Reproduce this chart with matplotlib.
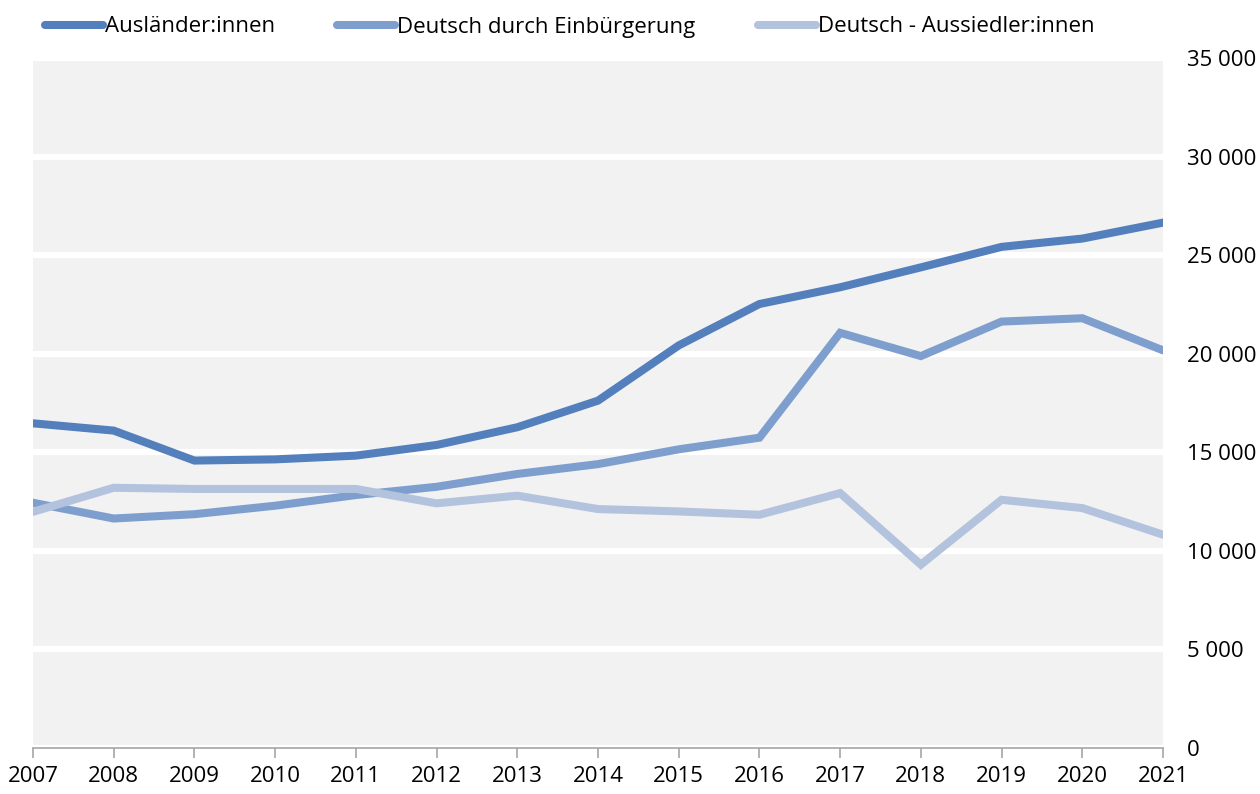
import matplotlib
matplotlib.use("Agg")
import matplotlib.pyplot as plt
from matplotlib.ticker import FuncFormatter

plt.rcParams['font.family'] = ['Open Sans', 'DejaVu Sans']

jahre = list(range(2007, 2022))

auslaender = [16470, 16100, 14580, 14640, 14830, 15370, 16270, 17620,
              20420, 22520, 23370, 24380, 25420, 25840, 26650]
einbuergerung = [12440, 11640, 11860, 12290, 12830, 13250, 13900, 14400,
                 15150, 15740, 21060, 19880, 21630, 21800, 20170]
aussiedler = [11980, 13200, 13140, 13140, 13140, 12410, 12800, 12120,
              12000, 11830, 12930, 9300, 12590, 12170, 10820]

namen = ["Ausländer:innen", "Deutsch durch Einbürgerung", "Deutsch - Aussiedler:innen"]
farben = ["#537fbc", "#7e9fce", "#b3c3de"]

y_ticks = [0, 5000, 10000, 15000, 20000, 25000, 30000, 35000]


def tausender(v, pos):
    return f"{int(v):,}".replace(",", " ")


def main():
    fig = plt.figure(figsize=(12.6, 7.94), dpi=100)
    ax = fig.add_axes([33 / 1260, 1 - 748 / 794, 1130 / 1260, 690 / 794])
    ax.set_facecolor("#f2f2f2")

    for werte, name, farbe in zip([auslaender, einbuergerung, aussiedler], namen, farben):
        ax.plot(jahre, werte, color=farbe, linewidth=5.8, label=name,
                solid_capstyle="round", solid_joinstyle="miter")

    ax.set_xlim(2007, 2021)
    ax.set_ylim(0, 35000)
    ax.set_xticks(jahre)
    ax.set_yticks(y_ticks)
    ax.yaxis.set_major_formatter(FuncFormatter(tausender))
    ax.yaxis.tick_right()
    ax.tick_params(axis="y", length=0, pad=17, labelsize=16, colors="#000000")
    ax.tick_params(axis="x", length=7, width=1.2, color="#a6a6a6", pad=6, labelsize=16)

    ax.grid(axis="y", color="white", linewidth=4.5)
    ax.set_axisbelow(True)
    for s in ["top", "left", "right"]:
        ax.spines[s].set_visible(False)
    ax.spines["bottom"].set_color("#a6a6a6")
    ax.spines["bottom"].set_linewidth(1.2)

    leg = fig.legend(loc="center left", bbox_to_anchor=(45 / 1260, 1 - 27 / 794),
                     ncol=3, frameon=False, fontsize=16, handlelength=2.6,
                     handletextpad=0.1, columnspacing=2.8, borderpad=0, borderaxespad=0)
    for h in leg.get_lines():
        h.set_solid_capstyle("round")

    fig.savefig("out.png", dpi=100)
    plt.close(fig)


if __name__ == "__main__":
    main()
